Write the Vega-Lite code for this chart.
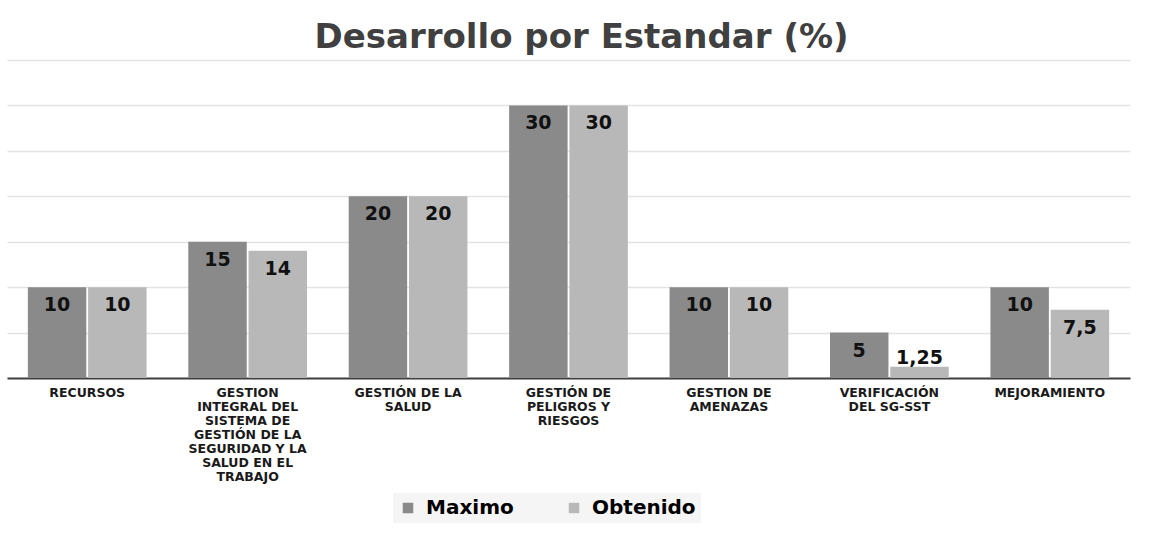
{
  "$schema": "https://vega.github.io/schema/vega-lite/v6.json",
  "autosize": "none",
  "width": 1123,
  "height": 318,
  "padding": {"left": 7, "top": 60, "right": 20, "bottom": 175},
  "background": "white",
  "title": {
    "text": "Desarrollo por Estandar (%)",
    "font": "DejaVu Sans",
    "fontSize": 34,
    "fontWeight": "bold",
    "color": "#404040",
    "anchor": "middle",
    "offset": 5,
    "dx": 13
  },
  "data": {
    "values": [
      {"category": "RECURSOS", "serie": "Maximo", "value": 10},
      {"category": "RECURSOS", "serie": "Obtenido", "value": 10},
      {"category": "GESTION|INTEGRAL DEL|SISTEMA DE|GESTIÓN DE LA|SEGURIDAD Y LA|SALUD EN EL|TRABAJO", "serie": "Maximo", "value": 15},
      {"category": "GESTION|INTEGRAL DEL|SISTEMA DE|GESTIÓN DE LA|SEGURIDAD Y LA|SALUD EN EL|TRABAJO", "serie": "Obtenido", "value": 14},
      {"category": "GESTIÓN DE LA|SALUD", "serie": "Maximo", "value": 20},
      {"category": "GESTIÓN DE LA|SALUD", "serie": "Obtenido", "value": 20},
      {"category": "GESTIÓN DE|PELIGROS Y|RIESGOS", "serie": "Maximo", "value": 30},
      {"category": "GESTIÓN DE|PELIGROS Y|RIESGOS", "serie": "Obtenido", "value": 30},
      {"category": "GESTION DE|AMENAZAS", "serie": "Maximo", "value": 10},
      {"category": "GESTION DE|AMENAZAS", "serie": "Obtenido", "value": 10},
      {"category": "VERIFICACIÓN|DEL SG-SST", "serie": "Maximo", "value": 5},
      {"category": "VERIFICACIÓN|DEL SG-SST", "serie": "Obtenido", "value": 1.25},
      {"category": "MEJORAMIENTO", "serie": "Maximo", "value": 10},
      {"category": "MEJORAMIENTO", "serie": "Obtenido", "value": 7.5}
    ]
  },
  "transform": [
    {"calculate": "replace(toString(datum.value), '.', ',')", "as": "label"}
  ],
  "encoding": {
    "x": {
      "field": "category",
      "type": "nominal",
      "sort": null,
      "title": null,
      "scale": {"paddingInner": 0.26, "paddingOuter": 0.13},
      "axis": {
        "labelExpr": "split(datum.label, '|')",
        "labelAngle": 0,
        "labelFont": "DejaVu Sans",
        "labelFontSize": 12.5,
        "labelFontWeight": "bold",
        "labelColor": "#1a1a1a",
        "labelLineHeight": 14,
        "labelBaseline": "top",
        "labelPadding": 8,
        "labelLimit": 300,
        "ticks": false,
        "domainColor": "#404040",
        "domainWidth": 2,
        "grid": false
      }
    },
    "xOffset": {"field": "serie", "type": "nominal", "scale": {"paddingInner": 0.03}},
    "y": {
      "field": "value",
      "type": "quantitative",
      "title": null,
      "scale": {"domain": [0, 35], "nice": false},
      "axis": {
        "values": [0, 5, 10, 15, 20, 25, 30, 35],
        "labels": false,
        "ticks": false,
        "domain": false,
        "grid": true,
        "gridColor": "#e3e3e3",
        "gridWidth": 1.5
      }
    }
  },
  "layer": [
    {
      "mark": {"type": "bar"},
      "encoding": {
        "color": {
          "field": "serie",
          "type": "nominal",
          "scale": {"domain": ["Maximo", "Obtenido"], "range": ["#8a8a8a", "#b8b8b8"]},
          "legend": {
            "title": null,
            "orient": "none",
            "legendX": 386,
            "legendY": 433,
            "direction": "horizontal",
            "fillColor": "#f5f5f5",
            "padding": 5,
            "symbolType": "square",
            "symbolSize": 110,
            "symbolStrokeWidth": 0,
            "labelFont": "DejaVu Sans",
            "labelFontSize": 20,
            "labelFontWeight": "bold",
            "labelColor": "#000000",
            "labelOffset": 8,
            "columnPadding": 50
          }
        }
      }
    },
    {
      "transform": [{"filter": "datum.value >= 5"}],
      "mark": {"type": "text", "font": "DejaVu Sans", "fontSize": 19, "fontWeight": "bold", "color": "#111111", "baseline": "middle", "dy": 18},
      "encoding": {"text": {"field": "label"}}
    },
    {
      "transform": [{"filter": "datum.value < 5"}],
      "mark": {"type": "text", "font": "DejaVu Sans", "fontSize": 19, "fontWeight": "bold", "color": "#111111", "baseline": "middle", "dy": -9},
      "encoding": {"text": {"field": "label"}}
    }
  ],
  "config": {"view": {"stroke": null}}
}
